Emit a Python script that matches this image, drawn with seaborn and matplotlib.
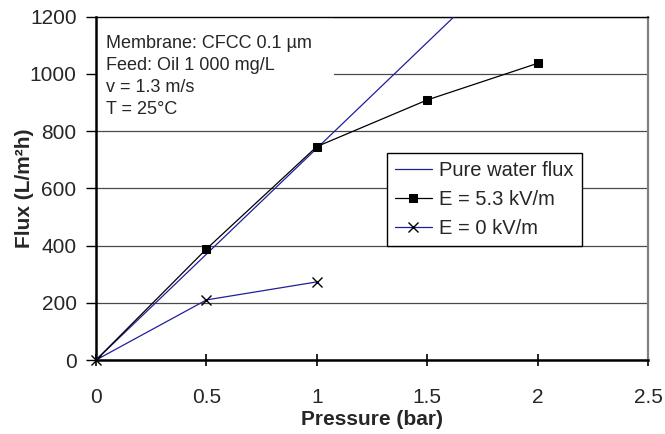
import matplotlib
matplotlib.use("Agg")
import matplotlib.pyplot as plt
from matplotlib.patches import Rectangle
from matplotlib.ticker import FuncFormatter
import numpy as np
import pandas as pd
import seaborn as sns

# Transmembrane pressure (bar) and permeate flux (L/m2h)
pressure_water = [0, 0.5, 1.0, 1.5, 2.0]
flux_water = [0, 370, 740, 1110, 1480]

pressure_e53 = [0, 0.5, 1.0, 1.5, 2.0]
flux_e53 = [0, 388, 746, 909, 1037]

pressure_e0 = [0, 0.5, 1.0]
flux_e0 = [0, 210, 273]

series_labels = ["Pure water flux", "E = 5.3 kV/m", "E = 0 kV/m"]
x_ticks = [0, 0.5, 1.0, 1.5, 2.0, 2.5]
y_ticks = [0, 200, 400, 600, 800, 1000, 1200]

conditions = "Membrane: CFCC 0.1 µm\nFeed: Oil 1 000 mg/L\nv = 1.3 m/s\nT = 25°C"

df_water = pd.DataFrame({"p": pressure_water, "J": flux_water})
df_e53 = pd.DataFrame({"p": pressure_e53, "J": flux_e53})
df_e0 = pd.DataFrame({"p": pressure_e0, "J": flux_e0})

sns.set_style("white")
plt.rcParams["font.family"] = ["Liberation Sans", "DejaVu Sans"]

blue = "#1f1f9e"

fig = plt.figure(figsize=(6.65, 4.34), dpi=100)
ax = fig.add_axes([0.1444, 0.1705, 0.8300, 0.7910])

sns.lineplot(data=df_water, x="p", y="J", ax=ax, color=blue, lw=0.9,
             label=series_labels[0], zorder=3)
sns.lineplot(data=df_e53, x="p", y="J", ax=ax, color="black", lw=0.9,
             marker="s", markersize=6, markeredgecolor="black",
             markerfacecolor="black", markevery=[1, 2, 3, 4],
             label=series_labels[1], zorder=4)
sns.lineplot(data=df_e0, x="p", y="J", ax=ax, color=blue, lw=0.9,
             marker="x", markersize=7, markeredgecolor="black",
             markeredgewidth=1.0, label=series_labels[2], zorder=4,
             clip_on=False)

ax.set_xlim(0, 2.5)
ax.set_ylim(0, 1200)
ax.set_xticks(x_ticks)
ax.set_yticks(y_ticks)
ax.xaxis.set_major_formatter(FuncFormatter(lambda v, _: f"{v:g}"))
ax.yaxis.set_major_formatter(FuncFormatter(lambda v, _: f"{v:g}"))

# horizontal gridlines only
ax.set_axisbelow(True)
ax.yaxis.grid(True, color="#4a4a4a", lw=0.9)
ax.xaxis.grid(False)

for side in ("left", "bottom"):
    ax.spines[side].set_color("black")
    ax.spines[side].set_linewidth(1.8)
ax.spines["top"].set_color("black")
ax.spines["top"].set_linewidth(1.0)
ax.spines["right"].set_color("#808080")
ax.spines["right"].set_linewidth(1.6)

ax.tick_params(axis="x", direction="inout", length=8, width=1.2, color="black",
               labelsize=15, pad=16, bottom=True)
ax.tick_params(axis="y", direction="out", length=7, width=1.0, color="black",
               labelsize=15, pad=7, left=True)

ax.set_xlabel("Pressure (bar)", fontsize=15, fontweight="bold", labelpad=2)
ax.set_ylabel("Flux (L/m²h)", fontsize=15, fontweight="bold", labelpad=-3)

# white panel behind the operating-condition notes
ax.add_patch(Rectangle((0.0, 0.685), 0.431, 0.31, transform=ax.transAxes,
                       facecolor="white", edgecolor="none", zorder=1))
ax.text(0.018, 0.946, conditions, transform=ax.transAxes, fontsize=13,
        va="top", ha="left", linespacing=1.38, zorder=5)

leg = ax.legend(loc="upper left", bbox_to_anchor=(0.527, 0.603),
                borderaxespad=0, fontsize=14.5, frameon=True, fancybox=False,
                framealpha=1, edgecolor="black", handlelength=1.8,
                handletextpad=0.35, labelspacing=0.48, borderpad=0.42)
leg.get_frame().set_linewidth(1.0)
leg.set_zorder(6)

fig.savefig("out.png", dpi=100)
